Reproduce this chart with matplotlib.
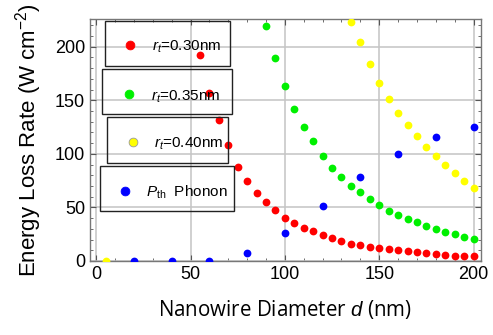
import matplotlib
matplotlib.use("Agg")
import matplotlib.pyplot as plt
from matplotlib.patches import Rectangle
from matplotlib.ticker import MultipleLocator

plt.rcParams['font.family'] = ['Liberation Sans', 'DejaVu Sans']
plt.rcParams['mathtext.fontset'] = 'custom'
plt.rcParams['mathtext.rm'] = 'Liberation Sans'
plt.rcParams['mathtext.it'] = 'Liberation Sans:italic'

# data
d_red = [55, 60, 65, 70, 75, 80, 85, 90, 95, 100, 105, 110, 115, 120, 125, 130,
         135, 140, 145, 150, 155, 160, 165, 170, 175, 180, 185, 190, 195, 200]
p_red = [192, 157, 131.6, 108, 88, 74.6, 63.7, 55, 47.5, 40, 35.6, 30.7, 28, 23.8,
         21.3, 18.8, 16.3, 14.5, 13.5, 12, 11, 10, 9.5, 8.2, 7.6, 6.4, 5.4, 5.1, 4.5, 4.5]

d_green = [90, 95, 100, 105, 110, 115, 120, 125, 130, 135, 140, 145, 150, 155,
           160, 165, 170, 175, 180, 185, 190, 195, 200]
p_green = [219.4, 189.5, 163.4, 141.6, 125, 111.7, 98, 86.7, 78.3, 70, 64.3, 57.8,
           52.1, 46.5, 42.8, 39, 36.3, 32.5, 29.7, 27, 24.8, 22.2, 20.4]

d_yellow = [5, 135, 140, 145, 150, 155, 160, 165, 170, 175, 180, 185, 190, 195, 200]
p_yellow = [0, 223, 204.5, 184, 166, 151, 138, 127, 116.6, 106.4, 98, 89.5, 82, 74.6, 68]

d_blue = [20, 40, 60, 80, 100, 120, 140, 160, 180, 200]
p_blue = [0, 0, 0, 7, 26.3, 51.2, 78.6, 99.8, 116, 125.3]

series = [
    (d_red, p_red, '#ff0000', r'$r_t$=0.30nm'),
    (d_green, p_green, '#00f000', r'$r_t$=0.35nm'),
    (d_yellow, p_yellow, '#ffff00', r'$r_t$=0.40nm'),
    (d_blue, p_blue, '#0000ff', r'$P_{\rm th}$  Phonon'),
]

fig = plt.figure(figsize=(4.93, 3.35), dpi=100)
ax = fig.add_axes([0.1826, 0.2209, 0.7925, 0.7215])

for x, y, c, lab in series:
    ax.plot(x, y, 'o', color=c, ms=5.6, mew=0, zorder=3)

ax.set_xlim(-3.3, 203.8)
ax.set_ylim(0, 225.5)
ax.xaxis.set_major_locator(MultipleLocator(50))
ax.xaxis.set_minor_locator(MultipleLocator(10))
ax.yaxis.set_major_locator(MultipleLocator(50))
ax.yaxis.set_minor_locator(MultipleLocator(10))
ax.grid(True, which='major', color='#c4c4c4', lw=1.1)
ax.tick_params(which='both', direction='in', top=True, right=True,
               color='#555555', labelsize=13)
ax.tick_params(which='major', length=4, width=0.8)
ax.tick_params(which='minor', length=2.5, width=0.6)
for s in ax.spines.values():
    s.set_color('#777777')
    s.set_linewidth(1.0)

ax.set_xlabel('Nanowire Diameter $d$ (nm)', fontsize=14.8, family='Open Sans', labelpad=11)
ax.set_ylabel('Energy Loss Rate (W cm$^{-2}$)', fontsize=16, labelpad=8)

# legend boxes (axes fraction): x0, x1, y0, y1, marker x, marker y, text x, text y
boxes = [
    (0.0376, 0.3584, 0.808, 0.9942, 0.103, 0.8937, 0.159, 0.8866),
    (0.0315, 0.3635, 0.607, 0.7944, 0.099, 0.692, 0.1553, 0.68),
    (0.0428, 0.3525, 0.4067, 0.5945, 0.109, 0.491, 0.1638, 0.484),
    (0.0248, 0.3694, 0.2069, 0.3943, 0.0904, 0.291, 0.1421, 0.2834),
]
for (x0, x1, y0, y1, mx, my, tx, ty), (_, _, c, lab) in zip(boxes, series):
    ax.add_patch(Rectangle((x0, y0), x1 - x0, y1 - y0, transform=ax.transAxes,
                           fill=False, edgecolor='#222222', lw=1.0, zorder=5))
    ec = '#999999' if c == '#ffff00' else c
    ax.plot([mx], [my], 'o', color=c, mec=ec, mew=0.6, ms=6.3, transform=ax.transAxes,
            zorder=6, clip_on=False)
    ax.text(tx, ty, lab, transform=ax.transAxes, fontsize=11, va='center',
            ha='left', zorder=6)

fig.savefig('out.png', dpi=100)
